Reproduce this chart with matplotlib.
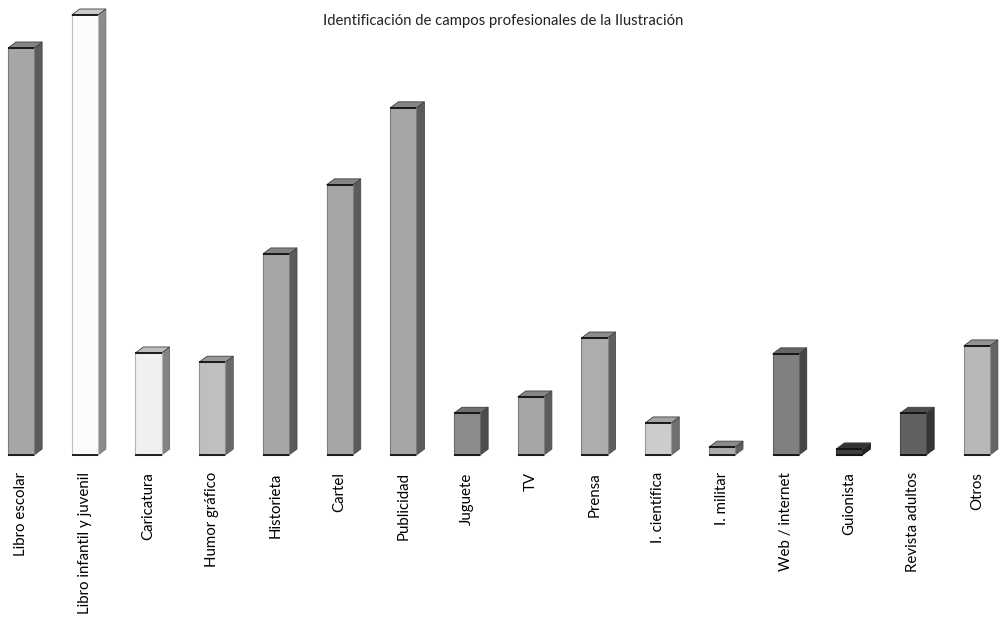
import matplotlib
matplotlib.use("Agg")
import matplotlib.pyplot as plt
from matplotlib.patches import Polygon

categorias = ["Libro escolar", "Libro infantil y juvenil", "Caricatura", "Humor gráfico",
              "Historieta", "Cartel", "Publicidad", "Juguete", "TV", "Prensa",
              "I. científica", "I. militar", "Web / internet", "Guionista",
              "Revista adultos", "Otros"]
valores = [92.5, 100, 23.2, 21.1, 45.7, 61.4, 78.9, 9.5, 13.2, 26.6, 7.3, 1.8, 23.0, 1.4, 9.5, 24.8]
grises = [0.65, 0.99, 0.94, 0.75, 0.65, 0.65, 0.65, 0.55, 0.65, 0.68, 0.80, 0.68, 0.50, 0.25, 0.38, 0.72]
titulo = "Identificación de campos profesionales de la Ilustración"

fig = plt.figure(figsize=(10.01, 6.17), dpi=100)
ax = fig.add_axes([0, 0, 1, 1])
ax.set_xlim(-0.33, 15.38)
ax.set_ylim(-36.8, 103.4)
ax.axis("off")

w = 0.41
dx = 0.126
dy = 1.36
for i, (v, g) in enumerate(zip(valores, grises)):
    x0 = i - w / 2
    x1 = i + w / 2
    front = (g, g, g)
    s = g * 0.55
    t = min(1, g * 0.8)
    side = (s, s, s)
    top = (t, t, t)
    ax.add_patch(Polygon([(x1, 0), (x1 + dx, dy), (x1 + dx, v + dy), (x1, v)],
                         closed=True, facecolor=side, edgecolor=(s * 0.8,) * 3, lw=0.6))
    ax.add_patch(Polygon([(x0, v), (x1, v), (x1 + dx, v + dy), (x0 + dx, v + dy)],
                         closed=True, facecolor=top, edgecolor=(0.25, 0.25, 0.25), lw=0.6))
    ax.add_patch(Polygon([(x0, 0), (x1, 0), (x1, v), (x0, v)],
                         closed=True, facecolor=front, edgecolor=(g * 0.75,) * 3, lw=0.8))
    ax.plot([x0, x1], [v, v], color="#111111", lw=1.3, solid_capstyle="butt")
    ax.plot([x0, x1], [0, 0], color="#111111", lw=1.3, solid_capstyle="butt")
    ax.text(i, -3.9, categorias[i], rotation=90, ha="center", va="top",
            fontsize=10.8, family="Lato", color="black")

fig.text(0.5025, 0.966, titulo, ha="center", va="center", fontsize=10.7, family="Lato", color="#222222")

fig.savefig("out.png", dpi=100)
